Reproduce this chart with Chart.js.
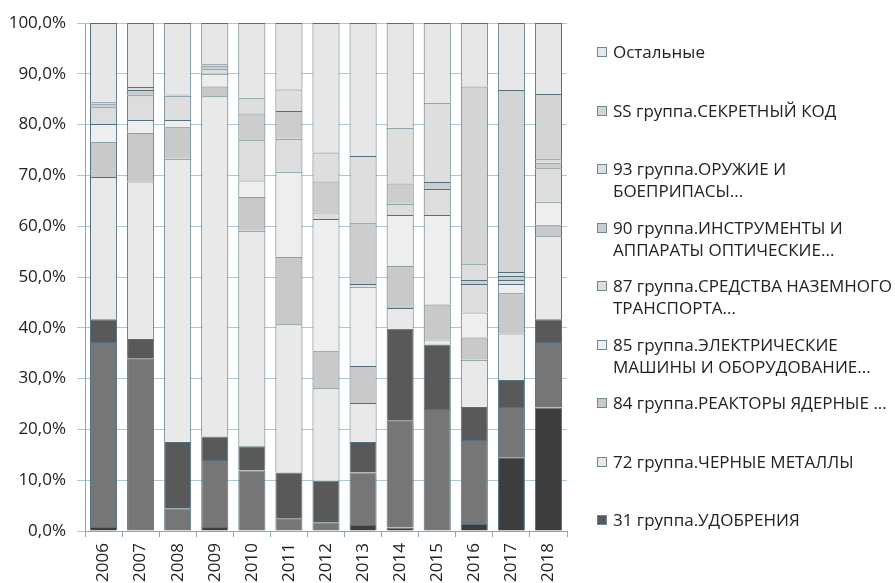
<!DOCTYPE html>
<html>
<head>
<meta charset="utf-8">
<script src="https://cdn.jsdelivr.net/npm/chart.js@4.4.0/dist/chart.umd.min.js"></script>
<style>
    body { margin: 0; background: #fff; width: 895px; height: 583px; overflow: hidden; position: relative; font-family: 'Open Sans', sans-serif; }
    #chart { position: absolute; left: 0; top: 0; }
    .item { position: absolute; left: 597px; white-space: nowrap; font-size: 17px; line-height: 22px; color: #222; }
    .box { position: absolute; left: 0; top: 6px; width: 8px; height: 8px; border: 1px solid #6f8790; }
    .txt { position: absolute; left: 16px; top: 0; }
</style>
</head>
<body>
<canvas id="chart" width="895" height="583"></canvas>
<div id="legend"></div>
<script>
var years = ['2006', '2007', '2008', '2009', '2010', '2011', '2012', '2013', '2014', '2015', '2016', '2017', '2018'];

// доли групп в экспорте, %, снизу вверх по столбцу
var s10    = [0.8, 0, 0, 0.8, 0, 0, 0, 1.2, 0.7, 0, 1.4, 14.5, 24.3];
var s27    = [36.4, 33.9, 4.5, 13.2, 11.9, 2.4, 1.7, 10.3, 21.0, 24.0, 16.5, 9.9, 12.9];
var s31    = [4.5, 3.9, 13.0, 4.6, 4.8, 9.1, 8.2, 6.0, 18.1, 12.7, 6.5, 5.3, 4.5];
var s72    = [28.0, 31.0, 55.8, 67.0, 42.4, 29.2, 18.2, 7.7, 4.1, 1.0, 9.3, 9.2, 16.3];
var s84    = [6.9, 9.6, 6.2, 1.9, 6.7, 13.3, 7.3, 7.3, 8.3, 6.9, 4.4, 7.9, 2.2];
var s85    = [3.5, 2.5, 1.4, 2.5, 3.2, 16.7, 26.0, 15.6, 10.0, 17.6, 4.9, 1.8, 4.6];
var s87    = [3.3, 4.9, 4.8, 0.9, 7.9, 6.5, 1.3, 0.5, 2.2, 5.1, 5.6, 0.8, 6.6];
var s90    = [0.6, 1.0, 0.2, 0.6, 5.3, 5.5, 6.1, 12.0, 4.0, 1.4, 0.8, 0.8, 1.0];
var s93    = [0.4, 0.6, 0.1, 0.4, 3.0, 4.2, 5.7, 13.2, 11.0, 15.6, 3.1, 0.8, 0.8];
var sSS    = [0, 0, 0, 0, 0, 0, 0, 0, 0, 0, 35.0, 35.8, 12.8];
var sOther = [15.6, 12.6, 14.0, 8.1, 14.8, 13.1, 25.5, 26.2, 20.6, 15.7, 12.5, 13.2, 14.0];

var seriesData = [s10, s27, s31, s72, s84, s85, s87, s90, s93, sSS, sOther];
var seriesNames = [
    ['10 группа.ЗЛАКИ'],
    ['27 группа.ТОПЛИВО МИНЕРАЛЬНОЕ...'],
    ['31 группа.УДОБРЕНИЯ'],
    ['72 группа.ЧЕРНЫЕ МЕТАЛЛЫ'],
    ['84 группа.РЕАКТОРЫ ЯДЕРНЫЕ ...'],
    ['85 группа.ЭЛЕКТРИЧЕСКИЕ', 'МАШИНЫ И ОБОРУДОВАНИЕ...'],
    ['87 группа.СРЕДСТВА НАЗЕМНОГО', 'ТРАНСПОРТА...'],
    ['90 группа.ИНСТРУМЕНТЫ И', 'АППАРАТЫ ОПТИЧЕСКИЕ...'],
    ['93 группа.ОРУЖИЕ И', 'БОЕПРИПАСЫ...'],
    ['SS группа.СЕКРЕТНЫЙ КОД'],
    ['Остальные']
];
var seriesColors = ['#3d3d3d', '#767676', '#595959', '#e9e9e9', '#c9c9c9', '#eeeeee', '#dddddd', '#cdcdcd', '#dedede', '#d4d4d4', '#e7e7e7'];

var datasets = seriesData.map(function (d, i) {
    return {
        label: seriesNames[i].join(' '),
        data: d,
        backgroundColor: seriesColors[i],
        borderColor: '#52707d',
        borderWidth: 1,
        barPercentage: 0.73,
        categoryPercentage: 1
    };
});

Chart.defaults.font.family = "'Open Sans', sans-serif";
Chart.defaults.font.size = 17;
Chart.defaults.color = '#222';

var ctx = document.getElementById('chart').getContext('2d');
var chart = new Chart(ctx, {
    type: 'bar',
    data: { labels: years, datasets: datasets },
    options: {
        responsive: false,
        animation: false,
        layout: { padding: { top: 23, right: 328, left: 0, bottom: 0 } },
        plugins: { legend: { display: false }, tooltip: { enabled: false } },
        scales: {
            x: {
                stacked: true,
                grid: { drawOnChartArea: false, color: '#86a9b8', tickLength: 6, offset: true },
                border: { color: '#86a9b8' },
                ticks: { minRotation: 90, maxRotation: 90, padding: 6 },
                afterFit: function (s) { s.height = 52; }
            },
            y: {
                stacked: true,
                min: 0,
                max: 100,
                ticks: {
                    stepSize: 10,
                    padding: 11,
                    callback: function (v) { return v.toFixed(1).replace('.', ',') + '%'; }
                },
                grid: { color: '#aac9d5', tickLength: 8 },
                border: { color: '#86a9b8' },
                afterFit: function (s) { s.width = 85; }
            }
        }
    }
});

// легенда: последние девять групп, сверху вниз в обратном порядке
var legend = document.getElementById('legend');
for (var k = 0; k < 9; k++) {
    var idx = seriesData.length - 1 - k;
    var item = document.createElement('div');
    item.className = 'item';
    item.style.top = (41 + 58.5 * k) + 'px';
    var box = document.createElement('div');
    box.className = 'box';
    box.style.background = seriesColors[idx];
    var txt = document.createElement('div');
    txt.className = 'txt';
    txt.innerHTML = seriesNames[idx].join('<br>');
    item.appendChild(box);
    item.appendChild(txt);
    legend.appendChild(item);
}
</script>
</body>
</html>
